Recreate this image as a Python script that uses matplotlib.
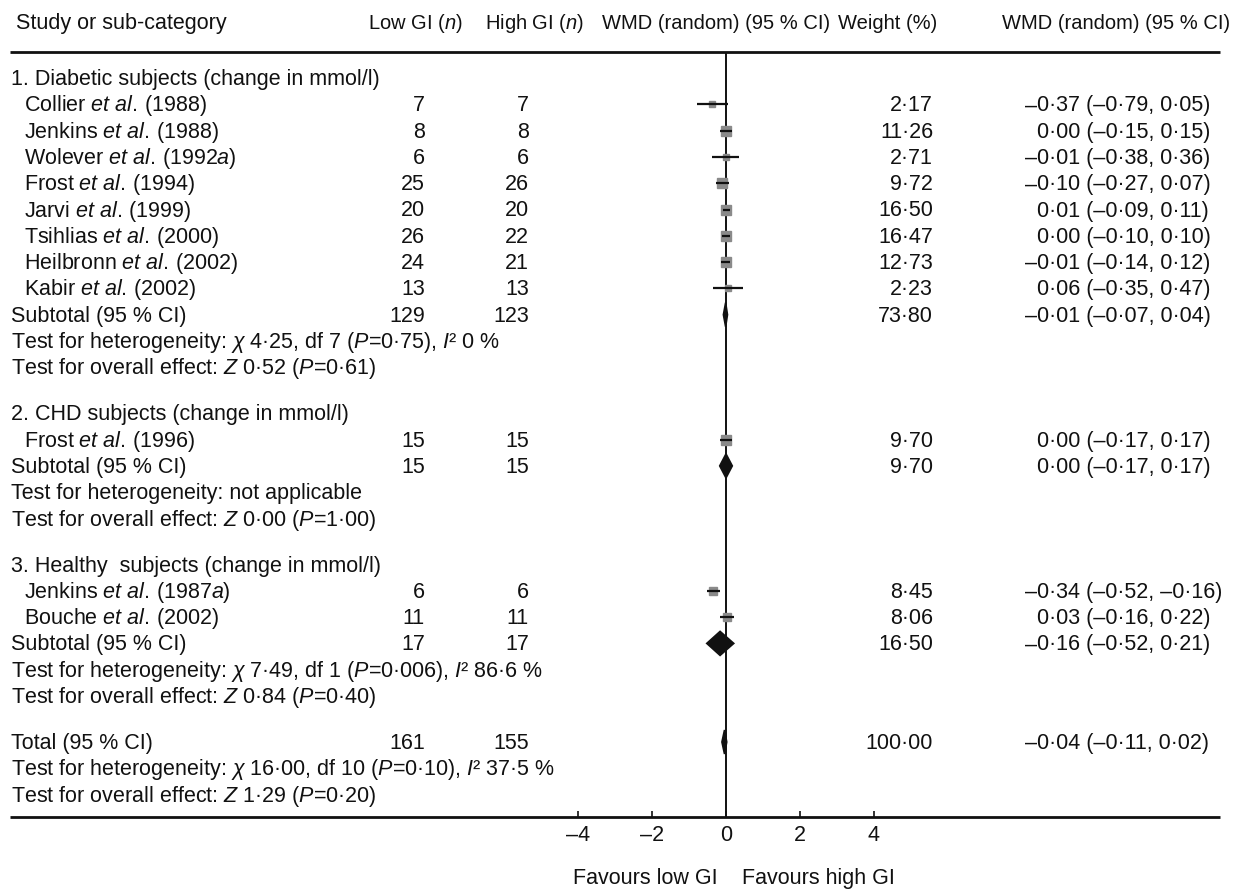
import matplotlib
matplotlib.use("Agg")
import matplotlib.pyplot as plt
import numpy as np
from matplotlib.patches import Polygon
from matplotlib.ticker import FuncFormatter

plt.rcParams["font.family"] = ["Liberation Sans", "DejaVu Sans"]
plt.rcParams["mathtext.fontset"] = "custom"
plt.rcParams["mathtext.rm"] = "Liberation Sans"
plt.rcParams["mathtext.it"] = "Liberation Sans:italic"

# ---- data -------------------------------------------------------------
group_titles = [
    "1. Diabetic subjects (change in mmol/l)",
    "2. CHD subjects (change in mmol/l)",
    "3. Healthy  subjects (change in mmol/l)",
]
study_names = [
    r"Collier $\it{et}$ $\it{al.}\,$(1988)",
    r"Jenkins $\it{et}$ $\it{al.}\,$(1988)",
    r"Wolever $\it{et}$ $\it{al.}\,$(1992$\it{a}$)",
    r"Frost $\it{et}$ $\it{al.}\,$(1994)",
    r"Jarvi $\it{et}$ $\it{al.}\,$(1999)",
    r"Tsihlias $\it{et}$ $\it{al.}\,$(2000)",
    r"Heilbronn $\it{et}$ $\it{al.}\,$(2002)",
    r"Kabir $\it{et}$ $\it{al.}\,$(2002)",
    r"Frost $\it{et}$ $\it{al.}\,$(1996)",
    r"Jenkins $\it{et}$ $\it{al.}\,$(1987$\it{a}$)",
    r"Bouche $\it{et}$ $\it{al.}\,$(2002)",
]
study_group = [0, 0, 0, 0, 0, 0, 0, 0, 1, 2, 2]
low_n = [7, 8, 6, 25, 20, 26, 24, 13, 15, 6, 11]
high_n = [7, 8, 6, 26, 20, 22, 21, 13, 15, 6, 11]
wmd = [-0.37, 0.00, -0.01, -0.10, 0.01, 0.00, -0.01, 0.06, 0.00, -0.34, 0.03]
ci_low = [-0.79, -0.15, -0.38, -0.27, -0.09, -0.10, -0.14, -0.35, -0.17, -0.52, -0.16]
ci_high = [0.05, 0.15, 0.36, 0.07, 0.11, 0.10, 0.12, 0.47, 0.17, -0.16, 0.22]
weight = [2.17, 11.26, 2.71, 9.72, 16.50, 16.47, 12.73, 2.23, 9.70, 8.45, 8.06]

sub_low_n = [129, 15, 17]
sub_high_n = [123, 15, 17]
sub_wmd = [-0.01, 0.00, -0.16]
sub_lo = [-0.07, -0.17, -0.52]
sub_hi = [0.04, 0.17, 0.21]
sub_weight = [73.80, 9.70, 16.50]
sub_het = [
    r"Test for heterogeneity: $\it{\chi}$ 4·25, df 7 ($\it{P}$=0·75), $\it{I}$² 0 %",
    "Test for heterogeneity: not applicable",
    r"Test for heterogeneity: $\it{\chi}$ 7·49, df 1 ($\it{P}$=0·006), $\it{I}$² 86·6 %",
]
sub_overall = [
    r"Test for overall effect: $\it{Z}$ 0·52 ($\it{P}$=0·61)",
    r"Test for overall effect: $\it{Z}$ 0·00 ($\it{P}$=1·00)",
    r"Test for overall effect: $\it{Z}$ 0·84 ($\it{P}$=0·40)",
]

total_n = (161, 155)
total_wmd, total_lo, total_hi, total_weight = -0.04, -0.11, 0.02, 100.00
total_het = r"Test for heterogeneity: $\it{\chi}$ 16·00, df 10 ($\it{P}$=0·10), $\it{I}$² 37·5 %"
total_overall = r"Test for overall effect: $\it{Z}$ 1·29 ($\it{P}$=0·20)"

x_ticks = [-4, -2, 0, 2, 4]

# ---- layout (pixel units) --------------------------------------------
W, H = 1241, 889
FS = 15.5
FS_HEAD = 14.5
BASE = 7
INK = "#111111"
BOX = "#8a8a8a"
top_rule, bottom_rule = 52, 817
row0, step, gap = 78, 26.3, 46
X_CAT, X_STUDY = 11, 24
X_LOW, X_HIGH = 425, 529
X_WEIGHT, X_CI = 933, 1037


def dec(v, nd=2):
    return f"{v:.{nd}f}".replace("-", "–").replace(".", "·")


fig = plt.figure(figsize=(W / 100, H / 100), dpi=100)
bg = fig.add_axes([0, 0, 1, 1])
bg.set_xlim(0, W)
bg.set_ylim(H, 0)
bg.axis("off")

ax = fig.add_axes([578 / W, 1 - bottom_rule / H, 296 / W, (bottom_rule - top_rule) / H])
ax.set_xlim(-4, 4)
ax.set_ylim(bottom_rule, top_rule)
ax.patch.set_visible(False)
for s in ax.spines.values():
    s.set_visible(False)
ax.set_yticks([])
ax.set_xticks(x_ticks)
ax.xaxis.set_major_formatter(FuncFormatter(lambda v, p: f"{v:g}".replace("-", "–")))
ax.tick_params(axis="x", direction="in", length=4.5, width=1.2, pad=6,
               labelsize=FS, color=INK, labelcolor=INK)
ax.axvline(0, color=INK, lw=1.4, zorder=1)


def put(x, y, s, ha="left", fs=FS):
    bg.text(x, y + BASE, s, ha=ha, va="baseline", fontsize=fs, color=INK)


def put_ci(y, e, lo, hi):
    s = f"{dec(e)} ({dec(lo)}, {dec(hi)})"
    if s.startswith("–"):
        put(X_CI, y, "–", ha="right")
        s = s[1:]
    put(X_CI, y, s)


def put_row(y, lab, x_lab, ln, hn, w, e, lo, hi):
    put(x_lab, y, lab)
    put(X_LOW, y, str(ln), ha="right")
    put(X_HIGH, y, str(hn), ha="right")
    put(X_WEIGHT, y, dec(w), ha="right")
    put_ci(y, e, lo, hi)


def diamond(y, e, lo, hi, h=12):
    ax.add_patch(Polygon([(lo, y), (e, y - h), (hi, y), (e, y + h)], closed=True,
                         facecolor=INK, edgecolor=INK, lw=1.2, zorder=4))


# headers
put(16, 22, "Study or sub-category")
put(463, 22, r"Low GI ($\it{n}$)", ha="right", fs=FS_HEAD)
put(584, 22, r"High GI ($\it{n}$)", ha="right", fs=FS_HEAD)
put(830, 22, "WMD (random) (95 % CI)", ha="right", fs=FS_HEAD)
put(838, 22, "Weight (%)", fs=FS_HEAD)
put(1230, 22, "WMD (random) (95 % CI)", ha="right", fs=FS_HEAD)
bg.hlines([top_rule, bottom_rule], 10, 1220, color=INK, lw=2.0)

y = row0
for g, title in enumerate(group_titles):
    put(X_CAT, y, title)
    y += step
    for i in [k for k, sg in enumerate(study_group) if sg == g]:
        put_row(y, study_names[i], X_STUDY, low_n[i], high_n[i], weight[i],
                wmd[i], ci_low[i], ci_high[i])
        side = (4.5 + 1.5 * np.sqrt(weight[i])) * 0.72
        ax.plot(wmd[i], y, marker="s", ms=side, color=BOX, mec=BOX, zorder=2)
        ax.hlines(y, ci_low[i], ci_high[i], color=INK, lw=1.6, zorder=3)
        y += step
    put_row(y, "Subtotal (95 % CI)", X_CAT, sub_low_n[g], sub_high_n[g], sub_weight[g],
            sub_wmd[g], sub_lo[g], sub_hi[g])
    diamond(y, sub_wmd[g], sub_lo[g], sub_hi[g])
    y += step
    put(X_CAT, y, sub_het[g])
    y += step
    put(X_CAT, y, sub_overall[g])
    y += gap

put_row(y, "Total (95 % CI)", X_CAT, total_n[0], total_n[1], total_weight,
        total_wmd, total_lo, total_hi)
diamond(y, total_wmd, total_lo, total_hi)
y += step
put(X_CAT, y, total_het)
y += step
put(X_CAT, y, total_overall)

put(718, 877, "Favours low GI", ha="right")
put(742, 877, "Favours high GI")

fig.savefig("out.png", dpi=100)
